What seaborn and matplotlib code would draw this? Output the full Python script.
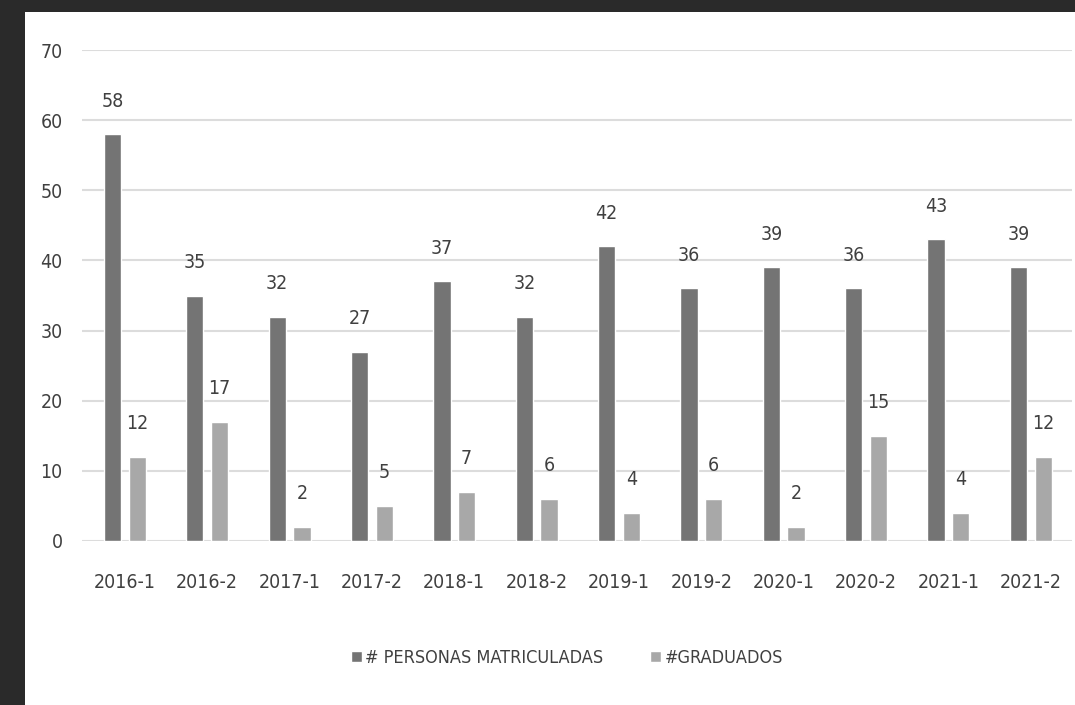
import matplotlib
matplotlib.use("Agg")
import matplotlib.pyplot as plt
import seaborn as sns
import pandas as pd
from matplotlib.patches import Rectangle
from matplotlib import font_manager

periods = ["2016-1", "2016-2", "2017-1", "2017-2", "2018-1", "2018-2",
           "2019-1", "2019-2", "2020-1", "2020-2", "2021-1", "2021-2"]
matriculados = [58, 35, 32, 27, 37, 32, 42, 36, 39, 36, 43, 39]
graduados = [12, 17, 2, 5, 7, 6, 4, 6, 2, 15, 4, 12]
series_names = ["# PERSONAS MATRICULADAS", "#GRADUADOS"]
colors = ["#747474", "#a8a8a8"]

sns.set_theme(style="white")

# pick a condensed face if one is installed
fam, stretch = "Liberation Sans", "normal"
for f in font_manager.fontManager.ttflist:
    st = str(f.stretch).lower()
    if ("narrow" in f.name.lower() or "condensed" in st or st in ("400", "300")) and f.style == "normal":
        if f.name in ("Liberation Sans Narrow", "DejaVu Sans", "Roboto Condensed",
                      "Open Sans Condensed", "Open Sans", "Noto Sans", "Roboto"):
            fam, stretch = f.name, f.stretch
            break
plt.rcParams["font.family"] = [fam, "DejaVu Sans"]
plt.rcParams["font.stretch"] = stretch
FS = 14 if stretch != "normal" or "Narrow" in fam else 13

df = pd.DataFrame({
    "periodo": periods * 2,
    "valor": matriculados + graduados,
    "serie": [series_names[0]] * len(periods) + [series_names[1]] * len(periods),
})

fig = plt.figure(figsize=(10.75, 7.05), dpi=100)
fig.patch.set_facecolor("#2a2a2a")
fig.add_artist(Rectangle((25 / 1075, 0), 1 - 25 / 1075, 1 - 12 / 705,
                         transform=fig.transFigure, facecolor="white",
                         edgecolor="none", zorder=0))

ax = fig.add_axes([82 / 1075, 1 - 541 / 705, (1072 - 82) / 1075, (541 - 50) / 705])
ax.set_facecolor("none")
sns.barplot(data=df, x="periodo", y="valor", hue="serie", palette=colors,
            width=0.6, gap=0.3, ax=ax, legend=True, saturation=1)

for cont in ax.containers:
    ax.bar_label(cont, padding=17, fontsize=FS, color="#404040")

ax.set_ylim(0, 70)
ax.set_yticks(range(0, 71, 10))
ax.set_xlim(-0.52, 11.5)
ax.grid(axis="y", color="#dcdcdc", linewidth=1.5)
ax.set_axisbelow(True)
for s in ax.spines.values():
    s.set_visible(False)
ax.tick_params(axis="x", length=0, pad=23, labelsize=FS, labelcolor="#404040")
ax.tick_params(axis="y", length=0, pad=14, labelsize=FS, labelcolor="#404040")
ax.set_xlabel("")
ax.set_ylabel("")

handles, labels = ax.get_legend_handles_labels()
ax.get_legend().remove()
fig.legend(handles, labels, loc="center", bbox_to_anchor=(567 / 1075, 1 - 658 / 705),
           ncol=2, frameon=False, fontsize=FS - 1, labelcolor="#404040",
           handlelength=0.6, handleheight=0.6, handletextpad=0.2, columnspacing=2.6)

fig.savefig("out.png", dpi=100, facecolor=fig.get_facecolor())
